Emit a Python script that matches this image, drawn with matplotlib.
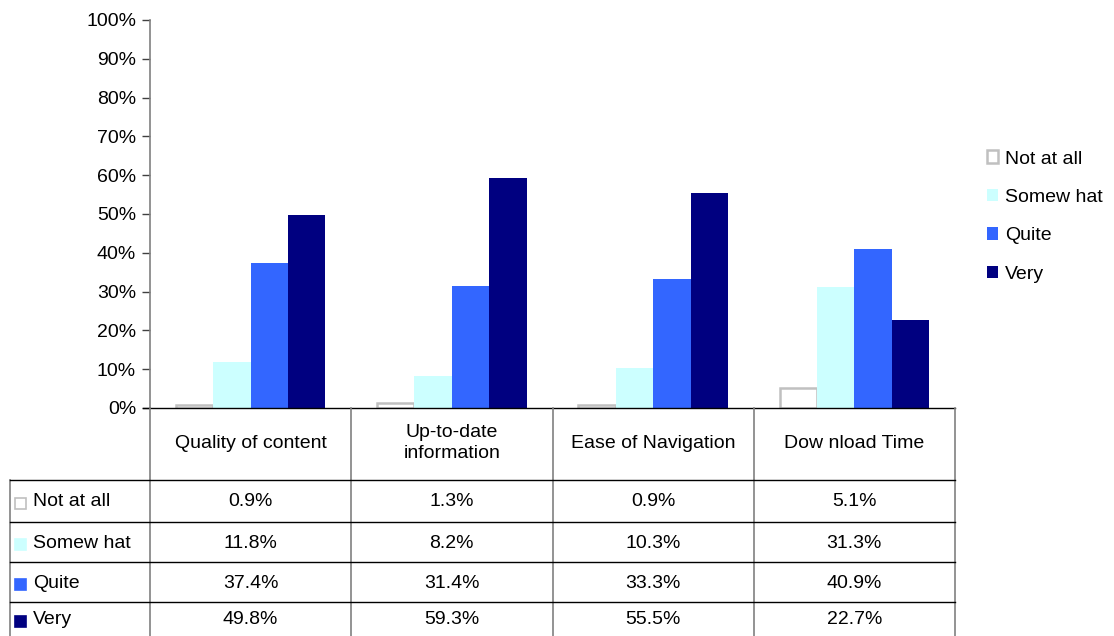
import matplotlib

matplotlib.use("Agg")
import matplotlib.pyplot as plt
import numpy as np
from matplotlib.patches import Rectangle

categories = ["Quality of content", "Up-to-date\ninformation", "Ease of Navigation", "Dow nload Time"]
series = ["Not at all", "Somew hat", "Quite", "Very"]
not_at_all = [0.9, 1.3, 0.9, 5.1]
somewhat = [11.8, 8.2, 10.3, 31.3]
quite = [37.4, 31.4, 33.3, 40.9]
very = [49.8, 59.3, 55.5, 22.7]

FACES = ["white", "#CCFFFF", "#3366FF", "#000080"]
EDGES = ["#C0C0C0", "#CCFFFF", "#3366FF", "#000080"]
FS = 14

plt.rcParams["font.family"] = ["Liberation Sans", "DejaVu Sans"]
plt.rcParams["font.size"] = FS

W, H = 1114, 636
fig = plt.figure(figsize=(W / 100, H / 100), dpi=100)

# pixel layout
x0, x1 = 150, 955
y_top, y_zero = 20, 408
ax = fig.add_axes([x0 / W, 1 - y_zero / H, (x1 - x0) / W, (y_zero - y_top) / H])

values = [not_at_all, somewhat, quite, very]
x = np.arange(len(categories))
w = 0.186
for k, vals in enumerate(values):
    lw = 1.8 if k == 0 else 0
    ax.bar(x + (k - 1.5) * w, vals, w, color=FACES[k], edgecolor=EDGES[k],
           linewidth=lw, label=series[k], zorder=2)

ax.set_xlim(-0.5, len(categories) - 0.5)
ax.set_ylim(0, 100)
ax.set_yticks(np.arange(0, 101, 10))
ax.set_yticklabels([f"{v}%" for v in range(0, 101, 10)])
ax.set_xticks([])
for s in ["top", "right", "bottom"]:
    ax.spines[s].set_visible(False)
ax.spines["left"].set_color("#808080")
ax.spines["left"].set_linewidth(1.2)
ax.tick_params(axis="y", length=6, width=1, color="#404040", pad=4, labelsize=FS)

handles, labels = ax.get_legend_handles_labels()
fig.legend(handles, labels, loc="upper left", bbox_to_anchor=(969 / W, 1 - 133 / H),
           frameon=False, handlelength=0.6, handleheight=0.6, handletextpad=0.35,
           labelspacing=1.1, fontsize=FS)

# data table below the plot, drawn in pixel coordinates
tab = fig.add_axes([0, 0, 1, 1])
tab.set_xlim(0, W)
tab.set_ylim(H, 0)
tab.axis("off")

col_edges = np.linspace(x0, x1, len(categories) + 1)
row_edges = [408, 480, 522, 562, 602, 650]
line_kw = dict(color="black", linewidth=1.0)
gray_kw = dict(color="#808080", linewidth=1.2)

tab.plot([143, x1], [408, 408], **line_kw)
for i, cx in enumerate(col_edges):
    tab.plot([cx, cx], [408, H], **gray_kw)
tab.plot([10, 10], [480, H], **gray_kw)
for ry in row_edges[1:-1]:
    tab.plot([10, x1], [ry, ry], **line_kw)

for i, cat in enumerate(categories):
    cx = (col_edges[i] + col_edges[i + 1]) / 2
    tab.text(cx, 443, cat, ha="center", va="center", fontsize=FS, linespacing=1.25)

for r, vals in enumerate(values):
    cy = (row_edges[r + 1] + min(row_edges[r + 2], H)) / 2 + 1
    tab.add_patch(Rectangle((15, cy - 4), 11, 11, facecolor=FACES[r],
                            edgecolor=EDGES[r], linewidth=1.2))
    tab.text(33, cy, series[r], ha="left", va="center", fontsize=FS)
    for i, v in enumerate(vals):
        cx = (col_edges[i] + col_edges[i + 1]) / 2
        tab.text(cx, cy, f"{v:.1f}%", ha="center", va="center", fontsize=FS)

fig.savefig("out.png", dpi=100)
